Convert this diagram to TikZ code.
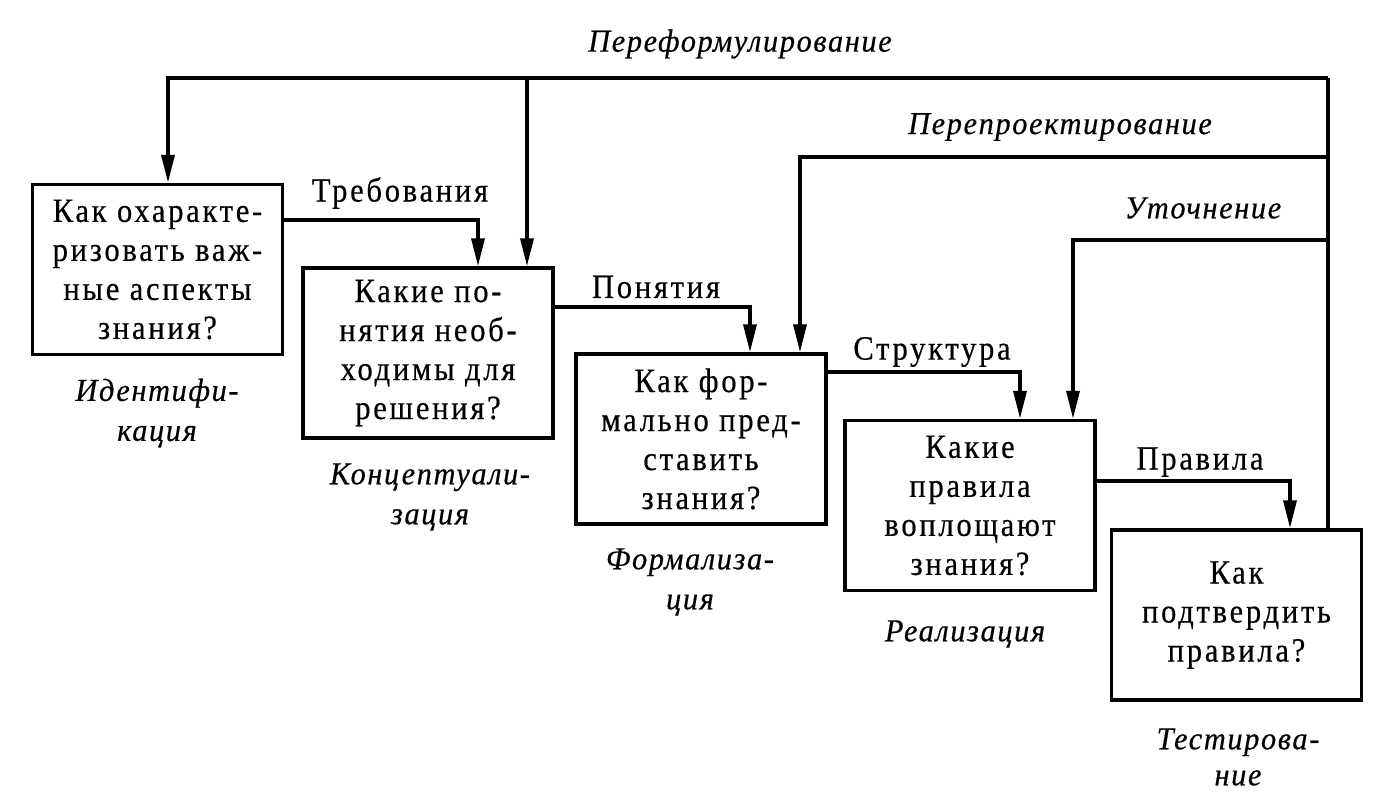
\documentclass[tikz,border=0pt]{standalone}
\usepackage{fontspec}
\setmainfont{Liberation Serif}[FakeStretch=0.9,LetterSpace=8,FakeBold=0.4,ItalicFeatures={LetterSpace=5,FakeStretch=0.95}]
\usetikzlibrary{arrows.meta}
\begin{document}
\begin{tikzpicture}[x=1pt,y=-1pt,
  box/.style={draw,line width=3.5pt,minimum width=250pt,minimum height=170pt,inner sep=0pt,align=center,font=\fontsize{34}{39}\selectfont},
  lbl/.style={font=\fontsize{34}{37}\selectfont,inner sep=0pt,anchor=center},
  flbl/.style={font=\fontsize{32}{37}\selectfont\itshape,inner sep=0pt,anchor=center},
  stage/.style={font=\fontsize{32}{40}\selectfont\itshape,inner sep=0pt,align=center},
  ln/.style={line width=3.5pt},
  arr/.style={line width=3.5pt,-{Triangle[length=28pt,width=13pt]}}]
\useasboundingbox (0,0) rectangle (1384,808);
\node[box] (b1) at (157.5,269.5) {Как охаракте-\\ризовать важ-\\ные аспекты\\знания?};
\node[box] (b2) at (428,353) {Какие по-\\нятия необ-\\ходимы для\\решения?};
\node[box] (b3) at (701,439) {Как фор-\\мально пред-\\ставить\\знания?};
\node[box] (b4) at (970,505.5) {Какие\\правила\\воплощают\\знания?};
\node[box] (b5) at (1236.5,615) {Как\\подтвердить\\правила?};
% forward connectors
\draw[arr] (b1.east |- 0,220) -| (b2.north -| 478,0);
\draw[arr] (b2.east |- 0,307) -| (b3.north -| 750,0);
\draw[arr] (b3.east |- 0,372) -| (b4.north -| 1020,0);
\draw[arr] (b4.east |- 0,481) -| (b5.north -| 1290,0);
\node[lbl] (t1) at (400,193) {Требования};
\node[lbl] (t2) at (656,287) {Понятия};
\node[lbl] (t3) at (932,352) {Структура};
\node[lbl] (t4) at (1200,462) {Правила};
% feedback
\coordinate (r1) at (1328,78);
\coordinate (r2) at (1328,157);
\coordinate (r3) at (1328,240);
\coordinate (f2) at (527,78);
\draw[ln] (b5.north -| r1) -- (r1);
\draw[arr] (r1) -| (b1.north -| 168,0);
\draw[arr] (f2) -- (b2.north -| f2);
\draw[arr] (r2) -| (b3.north -| 800,0);
\draw[arr] (r3) -| (b4.north -| 1073,0);
\node[flbl] (p1) at (740,44) {Переформулирование};
\node[flbl] (p2) at (1060,127) {Перепроектирование};
\node[flbl] (p3) at (1203,208) {Уточнение};
% stages
\node[stage] (s1) at (157,413) {Идентифи-\\кация};
\node[stage] (s2) at (430,497) {Концептуали-\\зация};
\node[stage] (s3) at (690,582) {Формализа-\\ция};
\node[stage] (s4) at (965,634) {Реализация};
\node[stage,font=\fontsize{32}{36}\selectfont\itshape] (s5) at (1238,757) {Тестирова-\\ние};
\end{tikzpicture}
\end{document}
